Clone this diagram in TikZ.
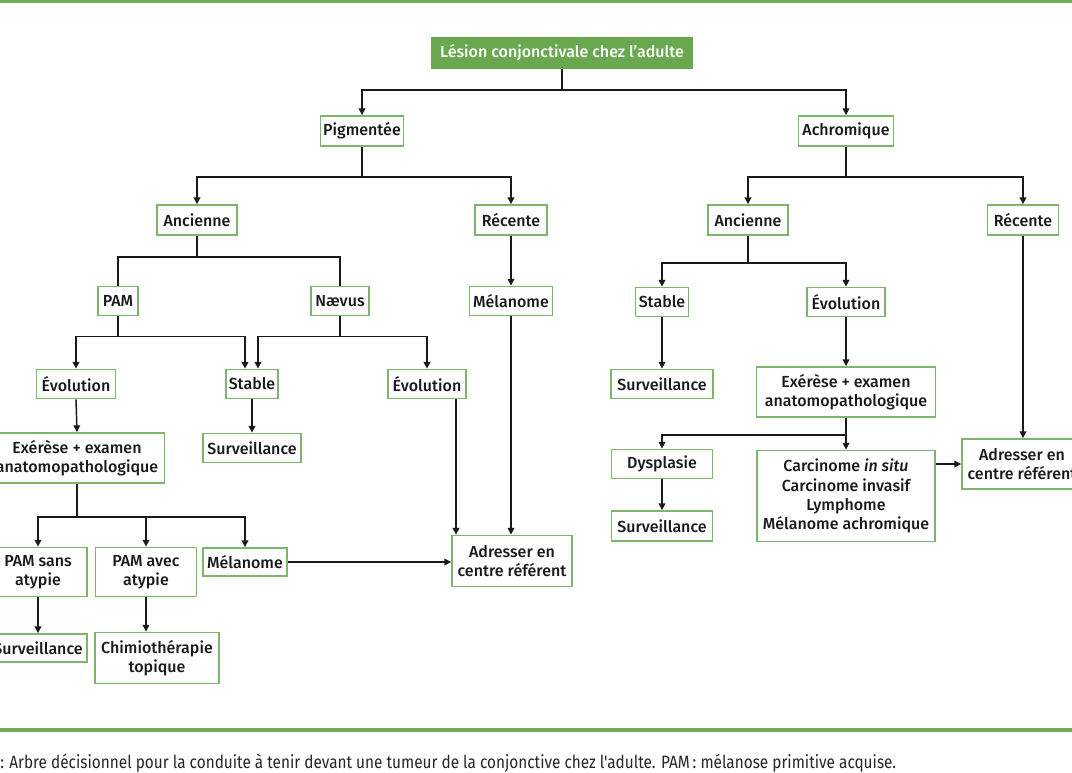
\documentclass[tikz,border=0pt]{standalone}
\usepackage{fontspec}
\setmainfont{Fira Sans}[BoldFont={Fira Sans Medium}]
\newfontfamily\capfont{Fira Sans}[FakeStretch=0.86]
\usetikzlibrary{arrows.meta,calc}
\definecolor{gbox}{RGB}{125,182,105}
\definecolor{gfill}{RGB}{106,168,79}
\definecolor{gline}{RGB}{112,172,92}
\tikzset{
  box/.style={draw=gbox, line width=1.4pt, fill=white, align=center, inner sep=0pt,
    font=\bfseries\fontsize{12}{14.4}\selectfont, text=black!90},
  bw/.style={minimum width=#1*0.75pt},
  bh/.style={minimum height=#1*0.75pt},
  conn/.style={line width=1.1pt, black!90},
  arr/.style={conn, -{Triangle[length=5pt,width=5pt]}},
}
\begin{document}
\begin{tikzpicture}[x=0.75pt,y=-0.75pt]
\clip (0,0) rectangle (1072,772);
\fill[white] (0,0) rectangle (1072,772);
\draw[gline, line width=2.4pt] (0,1.5) -- (1072,1.5);
\draw[gline, line width=2.4pt] (0,730) -- (1072,730);

\node[box, bw=260, bh=30, fill=gfill, draw=gfill, text=white] (title) at (562,53) {Lésion conjonctivale chez l'adulte};
\node[box, bw=83, bh=30] (pig) at (362,131) {Pigmentée};
\node[box, bw=95, bh=30] (ach) at (846,131) {Achromique};
\node[box, bw=80, bh=30] (anc1) at (197,220) {Ancienne};
\node[box, bw=72, bh=30] (rec1) at (511,220) {Récente};
\node[box, bw=80, bh=30] (anc2) at (748,220) {Ancienne};
\node[box, bw=71, bh=30] (rec2) at (1023,220) {Récente};
\node[box, bw=40, bh=29] (pam) at (118,301) {PAM};
\node[box, bw=58, bh=29] (nae) at (340,301) {Nævus};
\node[box, bw=83, bh=29] (mel1) at (511,301) {Mélanome};
\node[box, bw=53, bh=29] (stab2) at (662,302) {Stable};
\node[box, bw=78, bh=29] (evo3) at (846,302) {Évolution};
\node[box, bw=79, bh=29] (evo1) at (76,384) {Évolution};
\node[box, bw=52, bh=29] (stab1) at (252,384) {Stable};
\node[box, bw=78, bh=29] (evo2) at (427,384) {Évolution};
\node[box, bw=102, bh=29] (surv2) at (662,384) {Surveillance};
\node[box, bw=179, bh=50] (exe2) at (846,392) {Exérèse + examen\\anatomopathologique};
\node[box, bw=98, bh=29] (surv1) at (252,448) {Surveillance};
\node[box, bw=175, bh=50] (exe1) at (77,458) {Exérèse + examen\\anatomopathologique};
\node[box, bw=101, bh=29] (dys) at (662,464) {Dysplasie};
\node[box, bw=178, bh=91] (carc) at (846,496) {Carcinome \textit{in situ}\\Carcinome invasif\\Lymphome\\Mélanome achromique};
\node[box, bw=120, bh=50] (adrr) at (1022,464) {Adresser en\\centre référent};
\node[box, bw=101, bh=30] (surv3) at (662,526) {Surveillance};
\node[box, bw=98, bh=49] (pams) at (38,572) {PAM sans\\atypie};
\node[box, bw=101, bh=49] (pama) at (146,572) {PAM avec\\atypie};
\node[box, bw=84, bh=28] (mel2) at (245,562) {Mélanome};
\node[box, bw=120, bh=51] (adrl) at (512,561) {Adresser en\\centre référent};
\node[box, bw=98, bh=28] (survl) at (38,648) {Surveillance};
\node[box, bw=124, bh=51] (chim) at (157,658) {Chimiothérapie\\topique};

% connectors
\draw[arr] (title.south) -- ++(0,21) -| (pig.north);
\draw[arr] (title.south) -- ++(0,21) -| (ach.north);
\draw[arr] (pig.south) -- ++(0,30) -| (anc1.north);
\draw[arr] (pig.south) -- ++(0,30) -| (rec1.north);
\draw[arr] (ach.south) -- ++(0,30) -| (anc2.north);
\draw[arr] (ach.south) -- ++(0,30) -| (rec2.north);
\draw[conn] (anc1.south) -- ++(0,21) -| (pam.north);
\draw[conn] (anc1.south) -- ++(0,21) -| (nae.north);
\draw[arr] (rec1.south) -- (mel1.north);
\draw[arr] (anc2.south) -- ++(0,27) -| (stab2.north);
\draw[arr] (anc2.south) -- ++(0,27) -| (evo3.north);
\draw[arr] (pam.south) -- ++(0,20) -| (evo1.north);
\draw[arr] (pam.south) -- ++(0,20) -| ([xshift=-7*0.75pt]stab1.north);
\draw[arr] (nae.south) -- ++(0,20) -| ([xshift=6*0.75pt]stab1.north);
\draw[arr] (nae.south) -- ++(0,20) -| (evo2.north);
\draw[arr] (stab1.south) -- (surv1.north);
\draw[arr] (evo1.south) -- (exe1.north);
\draw[arr] (exe1.south) -- ++(0,33) -| (pams.north);
\draw[arr] (exe1.south) -- ++(0,33) -| (pama.north);
\draw[arr] (exe1.south) -- ++(0,33) -| (mel2.north);
\draw[arr] (pams.south) -- (survl.north);
\draw[arr] (pama.south) -- (pama.south |- chim.north);
\draw[arr] (mel2.east) -- (mel2.east -| adrl.west);
\draw[arr] ([xshift=29*0.75pt]evo2.south) -- ([xshift=29*0.75pt]evo2.south |- adrl.north);
\draw[arr] (mel1.south) -- (mel1.south |- adrl.north);
\draw[arr] (stab2.south) -- (surv2.north);
\draw[arr] (evo3.south) -- (exe2.north);
\draw[arr] (exe2.south) -- ++(0,17) -| (dys.north);
\draw[arr] (exe2.south) -- ++(0,17) -| (carc.north);
\draw[arr] (dys.south) -- (surv3.north);
\draw[arr] (carc.east |- adrr.west) -- (adrr.west);
\draw[arr] (rec2.south) -- (rec2.south |- adrr.north);

\node[anchor=west, inner sep=0pt, font=\capfont\fontsize{13.4}{15}\selectfont, text=black!85] (cap) at (0,763) {: Arbre décisionnel pour la conduite à tenir devant une tumeur de la conjonctive chez l'adulte. PAM\,: mélanose primitive acquise.};
\end{tikzpicture}
\end{document}
